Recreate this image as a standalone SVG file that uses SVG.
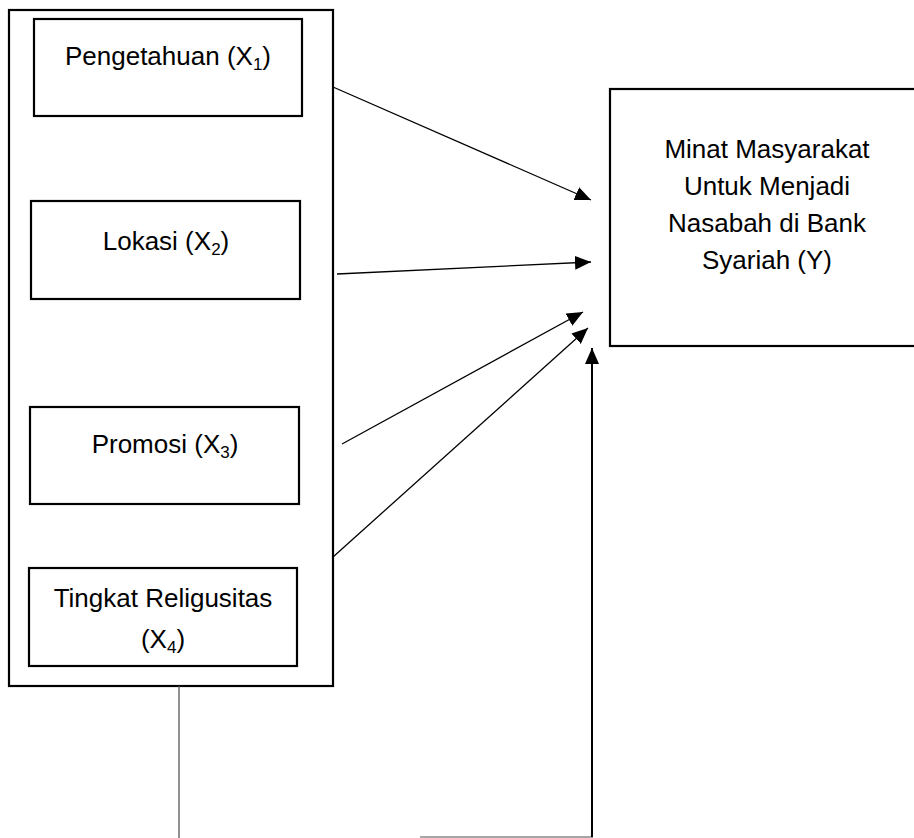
<svg xmlns="http://www.w3.org/2000/svg" width="914" height="838" viewBox="0 0 914 838">
<style>
.box{fill:#fff;stroke:#000;stroke-width:2.2}
.t{font-family:"Liberation Sans",Arial,sans-serif;font-size:26px;fill:#000;text-anchor:middle}
.sub{font-size:17px}
.c{stroke:#000;stroke-width:1.3;fill:none}
</style>
<defs>
<marker id="ah" markerUnits="userSpaceOnUse" markerWidth="18" markerHeight="16" refX="16" refY="7" orient="auto">
<path d="M0,0 L16,7 L0,14 z" fill="#000"/>
</marker>
</defs>
<rect width="914" height="838" fill="#fff"/>
<g id="group-x">
<rect class="box" x="9" y="10" width="324" height="676"/>
</g>
<g id="x1">
<rect class="box" x="34" y="19" width="268" height="97"/>
<text class="t" x="168" y="65">Pengetahuan (X<tspan class="sub" dy="5">1</tspan><tspan dy="-5">)</tspan></text>
</g>
<g id="x2">
<rect class="box" x="31" y="201" width="269" height="98"/>
<text class="t" x="166" y="250">Lokasi (X<tspan class="sub" dy="5">2</tspan><tspan dy="-5">)</tspan></text>
</g>
<g id="x3">
<rect class="box" x="30" y="407" width="269" height="97"/>
<text class="t" x="165" y="453">Promosi (X<tspan class="sub" dy="5">3</tspan><tspan dy="-5">)</tspan></text>
</g>
<g id="x4">
<rect class="box" x="29" y="568" width="268" height="98"/>
<text class="t" x="163" y="607">Tingkat Religusitas</text>
<text class="t" x="163" y="648">(X<tspan class="sub" dy="5">4</tspan><tspan dy="-5">)</tspan></text>
</g>
<g id="y">
<rect class="box" x="610" y="89" width="310" height="257"/>
<text class="t" x="767" y="158">Minat Masyarakat</text>
<text class="t" x="767" y="195">Untuk Menjadi</text>
<text class="t" x="767" y="232">Nasabah di Bank</text>
<text class="t" x="767" y="269">Syariah (Y)</text>
</g>
<g id="connectors">
<line class="c" x1="333" y1="87" x2="591" y2="200" marker-end="url(#ah)"/>
<line class="c" x1="337" y1="274" x2="591" y2="262" marker-end="url(#ah)"/>
<line class="c" x1="342" y1="444" x2="583" y2="312" marker-end="url(#ah)"/>
<line class="c" x1="333" y1="557" x2="588" y2="328" marker-end="url(#ah)"/>
<line x1="179" y1="686" x2="179" y2="838" stroke="#555" stroke-width="1.3"/>
<line x1="420" y1="837" x2="593" y2="837" stroke="#888" stroke-width="1.3"/>
<line x1="592" y1="837" x2="592" y2="348" stroke="#000" stroke-width="2" marker-end="url(#ah)"/>
</g>
</svg>
